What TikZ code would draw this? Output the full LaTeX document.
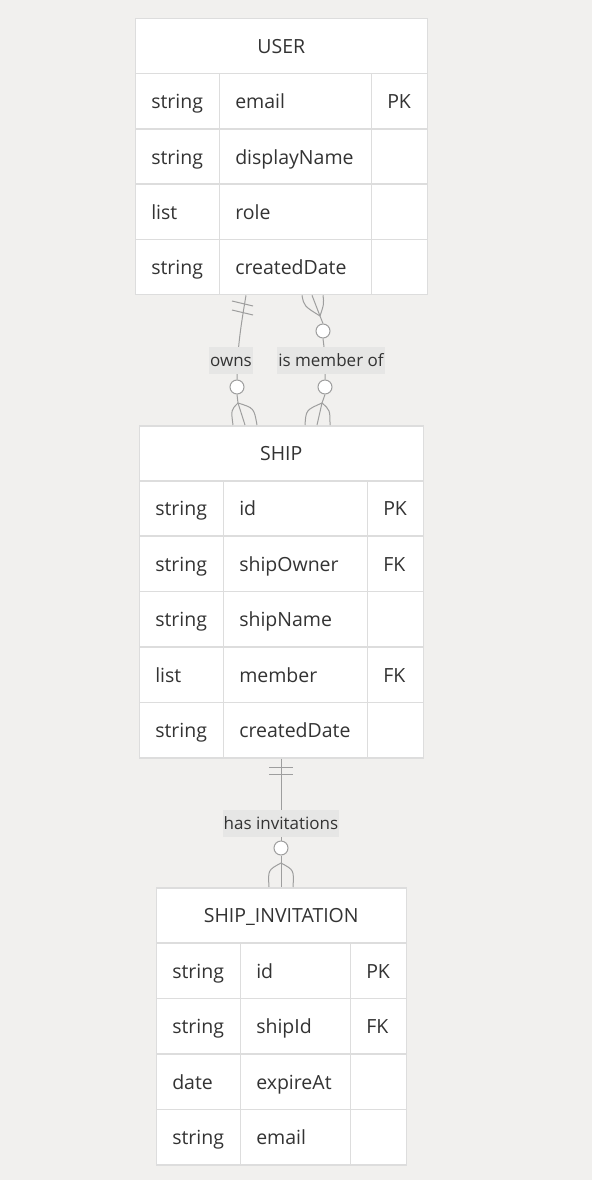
\documentclass[tikz,border=0pt]{standalone}
\usepackage{fontspec}
\setmainfont{Open Sans}
\definecolor{bgc}{RGB}{241,240,238}
\definecolor{bordc}{RGB}{221,221,221}
\definecolor{txtc}{RGB}{51,51,51}
\definecolor{relc}{RGB}{158,158,158}
\definecolor{lblc}{RGB}{230,230,229}
\tikzset{
  base/.style={draw=bordc, line width=1.5pt, fill=white, anchor=north west,
    inner xsep=16pt, inner ysep=0pt, text=txtc, font=\fontsize{19.5}{23}\selectfont,
    text height=16pt, text depth=1pt},
  hdr/.style 2 args={base, minimum width=#1pt, text width=#2pt, align=center, minimum height=55pt},
  cellw/.style n args={3}{base, minimum width=#1pt, text width=#2pt, align=left, minimum height=#3pt},
  rel/.style={draw=relc, line width=1pt},
  circ/.style={circle, draw=relc, fill=white, line width=1pt, minimum size=14pt, inner sep=0pt},
  lbl/.style={fill=lblc, text=txtc, inner xsep=1pt, inner ysep=0pt, minimum height=27pt,
    font=\fontsize{17}{20}\selectfont, text height=14pt, text depth=1pt}
}
\begin{document}
\begin{tikzpicture}[x=1pt,y=-1pt]
\useasboundingbox[fill=bgc] (0,0) rectangle (592,1180);

% USER table
\node[hdr={292}{260}] (user) at (134.5,18) {USER};
\node[cellw={84}{52}{55.2}] (user-t1) at (134.5,73) {string};
\node[cellw={152}{120}{55.2}] (user-n1) at (218.5,73) {email};
\node[cellw={56}{24}{55.2}] (user-k1) at (370.5,73) {PK};
\node[cellw={84}{52}{55.2}] (user-t2) at (134.5,128.2) {string};
\node[cellw={152}{120}{55.2}] (user-n2) at (218.5,128.2) {displayName};
\node[cellw={56}{24}{55.2}] (user-k2) at (370.5,128.2) {};
\node[cellw={84}{52}{55.2}] (user-t3) at (134.5,183.4) {list};
\node[cellw={152}{120}{55.2}] (user-n3) at (218.5,183.4) {role};
\node[cellw={56}{24}{55.2}] (user-k3) at (370.5,183.4) {};
\node[cellw={84}{52}{55.2}] (user-t4) at (134.5,238.6) {string};
\node[cellw={152}{120}{55.2}] (user-n4) at (218.5,238.6) {createdDate};
\node[cellw={56}{24}{55.2}] (user-k4) at (370.5,238.6) {};

% SHIP table
\node[hdr={284}{252}] (ship) at (138.5,425) {SHIP};
\node[cellw={84}{52}{55.4}] (ship-t1) at (138.5,480) {string};
\node[cellw={144}{112}{55.4}] (ship-n1) at (222.5,480) {id};
\node[cellw={56}{24}{55.4}] (ship-k1) at (366.5,480) {PK};
\node[cellw={84}{52}{55.4}] (ship-t2) at (138.5,535.4) {string};
\node[cellw={144}{112}{55.4}] (ship-n2) at (222.5,535.4) {shipOwner};
\node[cellw={56}{24}{55.4}] (ship-k2) at (366.5,535.4) {FK};
\node[cellw={84}{52}{55.4}] (ship-t3) at (138.5,590.8) {string};
\node[cellw={144}{112}{55.4}] (ship-n3) at (222.5,590.8) {shipName};
\node[cellw={56}{24}{55.4}] (ship-k3) at (366.5,590.8) {};
\node[cellw={84}{52}{55.4}] (ship-t4) at (138.5,646.2) {list};
\node[cellw={144}{112}{55.4}] (ship-n4) at (222.5,646.2) {member};
\node[cellw={56}{24}{55.4}] (ship-k4) at (366.5,646.2) {FK};
\node[cellw={84}{52}{55.4}] (ship-t5) at (138.5,701.6) {string};
\node[cellw={144}{112}{55.4}] (ship-n5) at (222.5,701.6) {createdDate};
\node[cellw={56}{24}{55.4}] (ship-k5) at (366.5,701.6) {};

% SHIP_INVITATION table
\node[hdr={250}{218}] (inv) at (155.5,887) {SHIP\_INVITATION};
\node[cellw={84}{52}{55.5}] (inv-t1) at (155.5,942) {string};
\node[cellw={110}{78}{55.5}] (inv-n1) at (239.5,942) {id};
\node[cellw={56}{24}{55.5}] (inv-k1) at (349.5,942) {PK};
\node[cellw={84}{52}{55.5}] (inv-t2) at (155.5,997.5) {string};
\node[cellw={110}{78}{55.5}] (inv-n2) at (239.5,997.5) {shipId};
\node[cellw={56}{24}{55.5}] (inv-k2) at (349.5,997.5) {FK};
\node[cellw={84}{52}{55.5}] (inv-t3) at (155.5,1053) {date};
\node[cellw={110}{78}{55.5}] (inv-n3) at (239.5,1053) {expireAt};
\node[cellw={56}{24}{55.5}] (inv-k3) at (349.5,1053) {};
\node[cellw={84}{52}{55.5}] (inv-t4) at (155.5,1108.5) {string};
\node[cellw={110}{78}{55.5}] (inv-n4) at (239.5,1108.5) {email};
\node[cellw={56}{24}{55.5}] (inv-k4) at (349.5,1108.5) {};

% ---- owns ----
\node[circ] (c-owns) at (237,387) {};
\coordinate (owns-apex) at (238,403);
\draw[rel] ([xshift=27.5pt]user-n4.south west) .. controls (241,325) and (237,350) .. (c-owns.north);
\draw[rel] (232,301) -- (253,306);
\draw[rel] (232,310) -- (253,315);
\draw[rel] (c-owns.south) -- (owns-apex);
\draw[rel] (owns-apex) -- ([xshift=106.5pt]ship.north west);
\draw[rel] (owns-apex) .. controls (231,410) .. ([xshift=94.5pt]ship.north west);
\draw[rel] (owns-apex) .. controls (254,408) .. ([xshift=118.5pt]ship.north west);

% ---- is member of ----
\node[circ] (c-mem1) at (323,331) {};
\node[circ] (c-mem2) at (325,387) {};
\coordinate (mem-apex1) at (320,316);
\coordinate (mem-apex2) at (322,403);
\draw[rel] ([xshift=93.5pt]user-n4.south west) -- (mem-apex1);
\draw[rel] ([xshift=83.5pt]user-n4.south west) .. controls (304,306) .. (mem-apex1);
\draw[rel] ([xshift=104.5pt]user-n4.south west) .. controls (324,304) .. (mem-apex1);
\draw[rel] (mem-apex1) -- (c-mem1.north);
\draw[rel] (c-mem1.south) .. controls (325,355) .. (c-mem2.north);
\draw[rel] (c-mem2.south) -- (mem-apex2);
\draw[rel] (mem-apex2) -- ([xshift=178.5pt]ship.north west);
\draw[rel] (mem-apex2) .. controls (306,410) .. ([xshift=166.5pt]ship.north west);
\draw[rel] (mem-apex2) .. controls (330,410) .. ([xshift=191.5pt]ship.north west);

% ---- has invitations ----
\node[circ] (c-inv) at (281,848) {};
\coordinate (inv-apex) at (281,863);
\draw[rel] ([xshift=58.5pt]ship-n5.south west) -- (c-inv.north);
\draw[rel] (269,767) -- (293,767);
\draw[rel] (269,774) -- (293,774);
\draw[rel] (c-inv.south) -- (inv-apex);
\draw[rel] (inv-apex) -- ([xshift=125.5pt]inv.north west);
\draw[rel] (inv-apex) .. controls (268,870) .. ([xshift=113.5pt]inv.north west);
\draw[rel] (inv-apex) .. controls (294,870) .. ([xshift=137.5pt]inv.north west);

% labels
\node[lbl] (l-owns) at (231,360) {owns};
\node[lbl] (l-mem) at (331,360) {is member of};
\node[lbl] (l-inv) at (281,823) {has invitations};
\end{tikzpicture}
\end{document}
